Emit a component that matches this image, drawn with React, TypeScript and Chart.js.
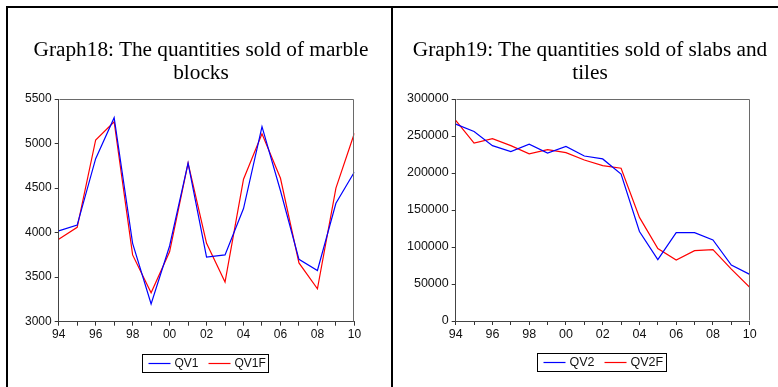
import React, { useEffect, useRef } from "react";
import { Chart, registerables } from "chart.js";

Chart.register(...registerables);

const years = [1994, 1995, 1996, 1997, 1998, 1999, 2000, 2001, 2002, 2003, 2004, 2005, 2006, 2007, 2008, 2009, 2010];
const qv1 = [4020, 4085, 4830, 5290, 3880, 3200, 3850, 4780, 3725, 3750, 4270, 5190, 4470, 3700, 3575, 4330, 4680];
const qv1f = [3925, 4060, 5040, 5245, 3750, 3325, 3785, 4780, 3880, 3445, 4600, 5110, 4610, 3660, 3370, 4500, 5115];
const qv2 = [266000, 256000, 237000, 229000, 239000, 227000, 236000, 223000, 219000, 198500, 121000, 83000, 119500, 119500, 109500, 75500, 63000];
const qv2f = [271000, 240500, 246500, 237000, 226000, 231500, 227500, 217500, 210000, 206500, 140000, 98000, 82500, 95000, 96500, 70000, 45500];

const title1 = ["Graph18: The quantities sold of marble", "blocks"];
const title2 = ["Graph19: The quantities sold of slabs and", "tiles"];

const SANS = "'Liberation Sans', Arial, sans-serif";

const framePlugin = {
  id: "frame",
  afterDraw(chart: any) {
    const { ctx, chartArea: a } = chart;
    ctx.save();
    ctx.strokeStyle = "#6a6a6a";
    ctx.lineWidth = 1;
    const l = Math.round(a.left) + 0.5;
    const t = Math.round(a.top) + 0.5;
    const r = Math.round(a.right) - 0.5;
    const b = Math.round(a.bottom) - 0.5;
    ctx.beginPath();
    ctx.moveTo(l, t);
    ctx.lineTo(r, t);
    ctx.lineTo(r, b);
    ctx.stroke();
    ctx.restore();
  },
};

const boxLegendPlugin = {
  id: "boxLegend",
  afterDraw(chart: any, _args: any, opts: any) {
    const { ctx, chartArea: a } = chart;
    const ds = chart.data.datasets;
    ctx.save();
    ctx.font = `${opts.fontSize || 12}px ${SANS}`;
    const lineW = 22;
    const padL = 6;
    const gapT = 4;
    const gapItem = 10;
    const padR = 3;
    const widths = ds.map((d: any) => ctx.measureText(d.label).width);
    let total = padL + padR;
    widths.forEach((w: number, i: number) => {
      total += lineW + gapT + w + (i < widths.length - 1 ? gapItem : 0);
    });
    const h = 18;
    const cx = (a.left + a.right) / 2 + (opts.dx || 0);
    const x0 = Math.round(cx - total / 2) + 0.5;
    const y0 = Math.round(a.bottom + (opts.dy || 32)) + 0.5;
    ctx.strokeStyle = "#000";
    ctx.lineWidth = 1;
    ctx.strokeRect(x0, y0, Math.round(total), h);
    let x = x0 + padL;
    const ym = y0 + h / 2;
    ds.forEach((d: any, i: number) => {
      ctx.strokeStyle = d.borderColor;
      ctx.lineWidth = 1.2;
      ctx.beginPath();
      ctx.moveTo(x, ym);
      ctx.lineTo(x + lineW, ym);
      ctx.stroke();
      x += lineW + gapT;
      ctx.fillStyle = "#111";
      ctx.textBaseline = "middle";
      ctx.textAlign = "left";
      ctx.fillText(d.label, x, ym + 0.5);
      x += widths[i] + gapItem;
    });
    ctx.restore();
  },
};

function makeConfig(
  a: number[],
  b: number[],
  la: string,
  lb: string,
  ymin: number,
  ymax: number,
  ystep: number,
  yWidth: number,
  padding: any,
  fontSize: number,
  legendOpts: any
): any {
  return {
    type: "line",
    data: {
      datasets: [
        {
          label: la,
          data: years.map((x, i) => ({ x, y: a[i] })),
          borderColor: "#0000ff",
          borderWidth: 1.2,
          pointRadius: 0,
          tension: 0,
          fill: false,
        },
        {
          label: lb,
          data: years.map((x, i) => ({ x, y: b[i] })),
          borderColor: "#ff0000",
          borderWidth: 1.2,
          pointRadius: 0,
          tension: 0,
          fill: false,
        },
      ],
    },
    options: {
      responsive: false,
      animation: false,
      devicePixelRatio: 1,
      layout: { padding },
      plugins: {
        legend: { display: false },
        tooltip: { enabled: false },
        title: { display: false },
        boxLegend: legendOpts,
      },
      scales: {
        x: {
          type: "linear",
          min: 1994,
          max: 2010,
          ticks: {
            stepSize: 1,
            autoSkip: false,
            maxRotation: 0,
            padding: 2,
            color: "#111",
            font: { family: SANS, size: fontSize },
            callback: (v: number) => (v % 2 === 0 ? String(v).slice(2) : ""),
          },
          grid: { drawOnChartArea: false, drawTicks: true, tickLength: 4, color: "#333" },
          border: { color: "#444", width: 1 },
          afterFit: (s: any) => {
            s.height = 30;
          },
        },
        y: {
          min: ymin,
          max: ymax,
          ticks: {
            stepSize: ystep,
            padding: 3,
            color: "#111",
            font: { family: SANS, size: fontSize },
            callback: (v: number) => String(v),
          },
          grid: { drawOnChartArea: false, drawTicks: true, tickLength: 4, color: "#333" },
          border: { color: "#444", width: 1 },
          afterFit: (s: any) => {
            s.width = yWidth;
          },
        },
      },
    },
    plugins: [framePlugin, boxLegendPlugin],
  };
}

export default function App() {
  const c1 = useRef<HTMLCanvasElement>(null);
  const c2 = useRef<HTMLCanvasElement>(null);

  useEffect(() => {
    const ch1 = new Chart(
      c1.current as HTMLCanvasElement,
      makeConfig(qv1, qv1f, "QV1", "QV1F", 3000, 5500, 500, 45,
        { left: 13.7, top: 99, right: 35.6, bottom: 35.3 }, 12, { dx: -1, dy: 32, fontSize: 12 })
    );
    const ch2 = new Chart(
      c2.current as HTMLCanvasElement,
      makeConfig(qv2, qv2f, "QV2", "QV2F", 0, 300000, 50000, 50,
        { left: 12.7, top: 99, right: 28.3, bottom: 36 }, 12.5, { dx: -1, dy: 31.7, fontSize: 12.5 })
    );
    return () => {
      ch1.destroy();
      ch2.destroy();
    };
  }, []);

  const titleStyle = (cx: number): React.CSSProperties => ({
    position: "absolute",
    left: cx - 200,
    width: 400,
    top: 38,
    textAlign: "center",
    fontFamily: "'Liberation Serif', 'Times New Roman', serif",
    fontSize: 21.3,
    lineHeight: "22.5px",
    color: "#000",
    whiteSpace: "nowrap",
  });

  return (
    <div style={{ position: "absolute", left: 0, top: 0, width: 778, height: 387, background: "#fff", overflow: "hidden" }}>
      <canvas ref={c1} width={390} height={387} style={{ position: "absolute", left: 0, top: 0 }} />
      <canvas ref={c2} width={385} height={387} style={{ position: "absolute", left: 393, top: 0 }} />
      <div style={titleStyle(201)}>
        {title1.map((t, i) => (
          <div key={i}>{t}</div>
        ))}
      </div>
      <div style={titleStyle(590)}>
        {title2.map((t, i) => (
          <div key={i}>{t}</div>
        ))}
      </div>
      <div style={{ position: "absolute", left: 6, top: 6, width: 772, height: 2, background: "#000" }} />
      <div style={{ position: "absolute", left: 6, top: 6, width: 2, height: 381, background: "#000" }} />
      <div style={{ position: "absolute", left: 391, top: 6, width: 2, height: 381, background: "#000" }} />
    </div>
  );
}
